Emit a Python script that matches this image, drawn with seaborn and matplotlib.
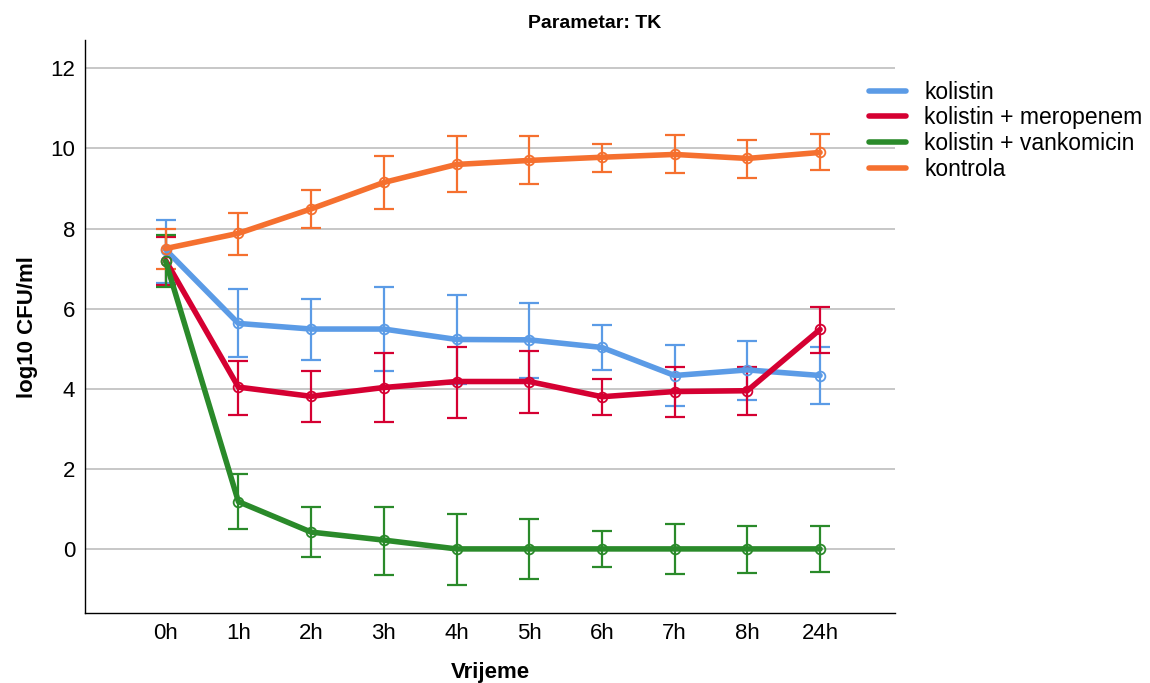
import numpy as np
import pandas as pd
import matplotlib
matplotlib.use("Agg")
import matplotlib.pyplot as plt
import seaborn as sns
from matplotlib.lines import Line2D

# Time points and treatment groups
vrijeme = ["0h", "1h", "2h", "3h", "4h", "5h", "6h", "7h", "8h", "24h"]
grupe = ["kolistin", "kolistin + meropenem", "kolistin + vankomicin", "kontrola"]

# Mean log10 CFU/ml per group
kolistin = [7.47, 5.63, 5.49, 5.49, 5.23, 5.22, 5.03, 4.33, 4.47, 4.33]
kol_merop = [7.20, 4.04, 3.81, 4.03, 4.18, 4.18, 3.80, 3.93, 3.95, 5.48]
kol_vank = [7.18, 1.18, 0.42, 0.22, 0.00, 0.00, 0.00, 0.00, 0.00, 0.00]
kontrola = [7.50, 7.88, 8.49, 9.15, 9.60, 9.70, 9.78, 9.85, 9.75, 9.90]

# Error bar bounds (lower, upper)
kolistin_lo = [6.65, 4.80, 4.72, 4.43, 4.13, 4.28, 4.47, 3.58, 3.73, 3.63]
kolistin_hi = [8.22, 6.48, 6.25, 6.53, 6.33, 6.15, 5.60, 5.08, 5.20, 5.03]
kol_merop_lo = [6.60, 3.35, 3.18, 3.18, 3.28, 3.40, 3.35, 3.30, 3.35, 4.90]
kol_merop_hi = [7.80, 4.70, 4.43, 4.88, 5.05, 4.95, 4.25, 4.55, 4.53, 6.05]
kol_vank_lo = [6.55, 0.50, -0.20, -0.65, -0.90, -0.75, -0.45, -0.62, -0.60, -0.58]
kol_vank_hi = [7.83, 1.88, 1.05, 1.05, 0.88, 0.75, 0.45, 0.62, 0.58, 0.58]
kontrola_lo = [7.00, 7.35, 8.02, 8.48, 8.90, 9.10, 9.42, 9.38, 9.27, 9.45]
kontrola_hi = [7.98, 8.40, 8.97, 9.80, 10.30, 10.30, 10.12, 10.33, 10.20, 10.35]

boje = ["#5B9BE6", "#D50032", "#2A8A2A", "#F5702F"]

srednje = [kolistin, kol_merop, kol_vank, kontrola]
donje = [kolistin_lo, kol_merop_lo, kol_vank_lo, kontrola_lo]
gornje = [kolistin_hi, kol_merop_hi, kol_vank_hi, kontrola_hi]

rows = []
for g, vals, lo, hi in zip(grupe, srednje, donje, gornje):
    for i, (t, v, l, h) in enumerate(zip(vrijeme, vals, lo, hi)):
        rows.append({"grupa": g, "vrijeme": t, "idx": i, "log": v, "lo": l, "hi": h})
df = pd.DataFrame(rows)

sns.set_theme(style="white")
plt.rcParams["font.family"] = ["Liberation Sans", "DejaVu Sans"]
plt.rcParams["text.color"] = "black"
plt.rcParams["axes.labelcolor"] = "black"
plt.rcParams["xtick.color"] = "black"
plt.rcParams["ytick.color"] = "black"

fig = plt.figure(figsize=(11.5, 6.83), dpi=100)
ax = fig.add_axes([0.0739, 0.1025, 0.7043, 0.8385])

# Horizontal grid
for yv in range(0, 13, 2):
    ax.axhline(yv, color="#BDBDBD", lw=1.2, zorder=0)

# Lines with open circle markers
n_before = len(ax.lines)
sns.lineplot(data=df, x="idx", y="log", hue="grupa", hue_order=grupe, palette=boje,
             lw=4, marker="o", markersize=7, legend=False, ax=ax, zorder=3)
for line, c in zip(ax.lines[n_before:], boje):
    line.set_markerfacecolor("none")
    line.set_markeredgecolor(c)
    line.set_markeredgewidth(1.3)

# Error bars
for g, c in zip(grupe, boje):
    d = df[df["grupa"] == g]
    ax.errorbar(d["idx"], d["log"],
                yerr=[d["log"] - d["lo"], d["hi"] - d["log"]],
                fmt="none", ecolor=c, elinewidth=1.6, capsize=7.5, capthick=1.6, zorder=2)

ax.set_xlim(-1.11, 10.03)
ax.set_ylim(-1.6, 12.7)
ax.set_xticks(range(len(vrijeme)))
ax.set_xticklabels(vrijeme, fontsize=16)
ax.set_yticks(range(0, 13, 2))
ax.set_yticklabels([str(v) for v in range(0, 13, 2)], fontsize=16)
ax.tick_params(axis="both", length=0, pad=7)
ax.set_xlabel("Vrijeme", fontsize=16, fontweight="bold", labelpad=13.5)
ax.set_ylabel("log10 CFU/ml", fontsize=16, fontweight="bold", labelpad=9)
for s in ["top", "right"]:
    ax.spines[s].set_visible(False)
for s in ["left", "bottom"]:
    ax.spines[s].set_color("black")
    ax.spines[s].set_linewidth(1.0)

fig.text(0.517, 0.966, "Parametar: TK", ha="center", va="center",
         fontsize=14, fontweight="bold")

handles = [Line2D([0], [0], color=c, lw=4) for c in boje]
fig.legend(handles, grupe, loc="upper left", bbox_to_anchor=(0.738, 0.912),
           frameon=False, fontsize=16.5, handlelength=1.6, handletextpad=0.8,
           labelspacing=0.12)

fig.savefig("out.png", dpi=100)
